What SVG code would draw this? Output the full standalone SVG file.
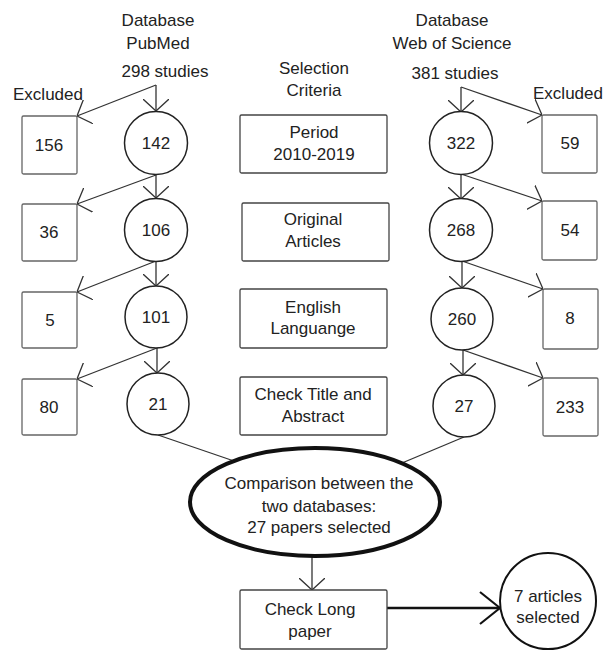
<svg xmlns="http://www.w3.org/2000/svg" width="603" height="653" viewBox="0 0 603 653">
<style>
text{font-family:"Liberation Sans",Arial,sans-serif;font-size:17px;fill:#222;text-anchor:middle}
.box{fill:#fff;stroke:#444;stroke-width:1.3}
.sbox{fill:#fff;stroke:#666;stroke-width:1.3}
.circ{fill:#fff;stroke:#222;stroke-width:1.5}
.ln{fill:none;stroke:#333;stroke-width:1.3}
</style>
<defs>
<marker id="ah" viewBox="0 0 12 26" refX="12" refY="13" markerWidth="12" markerHeight="26" markerUnits="userSpaceOnUse" orient="auto">
<path d="M0,0 L12,13 L0,26" fill="none" stroke="#333" stroke-width="1.3"/>
</marker>
<marker id="ahb" viewBox="0 0 22 34" refX="21" refY="17" markerWidth="22" markerHeight="34" markerUnits="userSpaceOnUse" orient="auto">
<path d="M1,1 L21,17 L1,33" fill="none" stroke="#111" stroke-width="2.2"/>
</marker>
</defs>
<rect width="603" height="653" fill="#fff"/>
<g id="headers">
<text x="158" y="26">Database</text>
<text x="158" y="49">PubMed</text>
<text x="165" y="77">298 studies</text>
<text x="48" y="100">Excluded</text>
<text x="314" y="74">Selection</text>
<text x="314" y="96">Criteria</text>
<text x="452" y="26">Database</text>
<text x="452" y="49">Web of Science</text>
<text x="455" y="79">381 studies</text>
<text x="568" y="99">Excluded</text>
</g>
<g id="connectors">
<path class="ln" d="M156,85 L77,116" marker-end="url(#ah)"/>
<path class="ln" d="M156,85 L156,111" marker-end="url(#ah)"/>
<path class="ln" d="M156,175 L77,204" marker-end="url(#ah)"/>
<path class="ln" d="M156,175 L156,198" marker-end="url(#ah)"/>
<path class="ln" d="M156,261 L77,292" marker-end="url(#ah)"/>
<path class="ln" d="M156,261 L156,286" marker-end="url(#ah)"/>
<path class="ln" d="M157,348 L77,379" marker-end="url(#ah)"/>
<path class="ln" d="M157,348 L157,373" marker-end="url(#ah)"/>
<path class="ln" d="M461,87 L542,115" marker-end="url(#ah)"/>
<path class="ln" d="M461,87 L461,112" marker-end="url(#ah)"/>
<path class="ln" d="M461,174 L542,201" marker-end="url(#ah)"/>
<path class="ln" d="M461,174 L461,199" marker-end="url(#ah)"/>
<path class="ln" d="M462,261 L543,289" marker-end="url(#ah)"/>
<path class="ln" d="M462,261 L462,288" marker-end="url(#ah)"/>
<path class="ln" d="M463,350 L543,378" marker-end="url(#ah)"/>
<path class="ln" d="M463,350 L463,375" marker-end="url(#ah)"/>
<path class="ln" d="M158,435 L234,461"/>
<path class="ln" d="M464,437 L402,463"/>
<path class="ln" d="M312,557 L312,590" marker-end="url(#ah)"/>
<path d="M387,608 L500,608" fill="none" stroke="#111" stroke-width="2.5" marker-end="url(#ahb)"/>
</g>
<g id="ex156"><rect class="sbox" x="22" y="116" width="55" height="58" rx="1.5"/><text x="49" y="151">156</text></g>
<g id="ex36"><rect class="sbox" x="22" y="204" width="55" height="57" rx="1.5"/><text x="49" y="238">36</text></g>
<g id="ex5"><rect class="sbox" x="22" y="292" width="55" height="56" rx="1.5"/><text x="50" y="326">5</text></g>
<g id="ex80"><rect class="sbox" x="22" y="379" width="55" height="56" rx="1.5"/><text x="49" y="413">80</text></g>
<g id="pm142"><circle class="circ" cx="156" cy="143" r="31.5"/><text x="156" y="149">142</text></g>
<g id="pm106"><circle class="circ" cx="156" cy="230" r="31.5"/><text x="156" y="236">106</text></g>
<g id="pm101"><circle class="circ" cx="156" cy="317" r="31"/><text x="156" y="323">101</text></g>
<g id="pm21"><circle class="circ" cx="158" cy="404" r="31"/><text x="158" y="410">21</text></g>
<g id="crit1"><rect class="box" x="240" y="115" width="147" height="58" rx="1.5"/><text x="314" y="138">Period</text><text x="314" y="160">2010-2019</text></g>
<g id="crit2"><rect class="box" x="242" y="203" width="147" height="58" rx="1.5"/><text x="313" y="225">Original</text><text x="313" y="247">Articles</text></g>
<g id="crit3"><rect class="box" x="240" y="289" width="147" height="59" rx="1.5"/><text x="313" y="313">English</text><text x="313" y="334">Languange</text></g>
<g id="crit4"><rect class="box" x="240" y="377" width="147" height="58" rx="1.5"/><text x="313" y="400">Check Title and</text><text x="313" y="422">Abstract</text></g>
<g id="ws322"><circle class="circ" cx="461" cy="143" r="31.5"/><text x="461" y="149">322</text></g>
<g id="ws268"><circle class="circ" cx="461" cy="230" r="31.5"/><text x="461" y="236">268</text></g>
<g id="ws260"><circle class="circ" cx="462" cy="319" r="31"/><text x="462" y="325">260</text></g>
<g id="ws27"><circle class="circ" cx="464" cy="406" r="31"/><text x="464" y="412">27</text></g>
<g id="ex59"><rect class="sbox" x="542" y="115" width="55" height="58" rx="1.5"/><text x="570" y="149">59</text></g>
<g id="ex54"><rect class="sbox" x="542" y="201" width="55" height="59" rx="1.5"/><text x="570" y="236">54</text></g>
<g id="ex8"><rect class="sbox" x="543" y="289" width="55" height="60" rx="1.5"/><text x="570" y="324">8</text></g>
<g id="ex233"><rect class="sbox" x="543" y="378" width="55" height="58" rx="1.5"/><text x="570" y="413">233</text></g>
<g id="comparison"><ellipse cx="315" cy="502" rx="125" ry="54" fill="#fff" stroke="#111" stroke-width="4"/><text x="319" y="489">Comparison between the</text><text x="319" y="512">two databases:</text><text x="319" y="533">27 papers selected</text></g>
<g id="longpaper"><rect class="box" x="240" y="590" width="147" height="59" rx="1.5"/><text x="310" y="615">Check Long</text><text x="310" y="637">paper</text></g>
<g id="result"><circle cx="548" cy="601" r="48" fill="#fff" stroke="#111" stroke-width="2"/><text x="548" y="602">7 articles</text><text x="548" y="623">selected</text></g>
</svg>
